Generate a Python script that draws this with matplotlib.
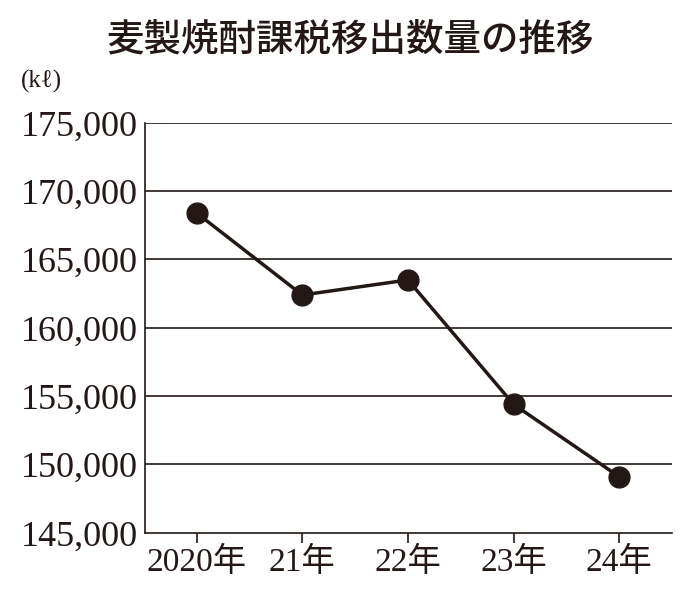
import matplotlib
matplotlib.use("Agg")
import matplotlib.pyplot as plt

years = ["2020年", "21年", "22年", "23年", "24年"]
values = [168400, 162400, 163500, 154400, 149100]
yticks = [145000, 150000, 155000, 160000, 165000, 170000, 175000]

fam = ["Liberation Serif", "Noto Sans CJK JP"]
col = "#231815"
fig = plt.figure(figsize=(7, 6.02), dpi=100)
ax = fig.add_axes([0.207, 0.115, 0.753, 0.681])
for y in yticks[1:]:
    ax.axhline(y, color=col, lw=1.2, zorder=1)
ax.plot(range(len(values)), values, color=col, lw=2.5, marker="o", ms=15, zorder=3)
ax.set_xlim(-0.49, 4.5)
ax.set_ylim(145000, 175000)
ax.set_yticks(yticks)
ax.set_yticklabels([f"{v:,}" for v in yticks], family=fam, fontsize=26, color=col)
ax.set_xticks(range(len(years)))
ax.set_xticklabels(years, family=fam, fontsize=24, color=col)
ax.tick_params(axis="y", length=0, pad=5)
ax.tick_params(axis="x", direction="out", length=7, width=1.2, color=col, pad=3)
for s in ["top", "right"]:
    ax.spines[s].set_visible(False)
for s in ["left", "bottom"]:
    ax.spines[s].set_color(col)
    ax.spines[s].set_linewidth(1.2)
fig.text(0.5, 0.935, "麦製焼酎課税移出数量の推移", ha="center", va="center",
         family="Noto Sans CJK JP", fontsize=27, fontweight="medium", color=col)
fig.text(0.03, 0.865, "(kℓ)", ha="left", va="center", family=fam, fontsize=18, color=col)
fig.savefig("out.png", dpi=100)
